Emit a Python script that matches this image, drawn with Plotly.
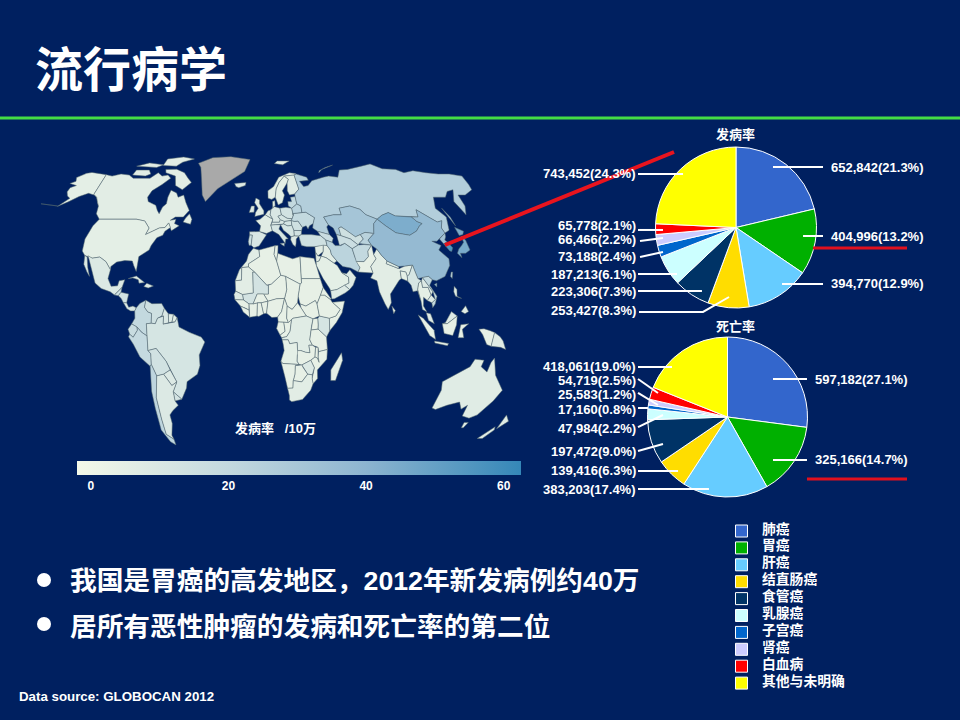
import numpy as np
import plotly.graph_objects as go
from plotly.colors import sample_colorscale

W, H = 960, 720
BG = "#002060"
FONT = "Liberation Sans, Noto Sans CJK SC, sans-serif"

# pie data
cancers = ["肺癌", "胃癌", "肝癌", "结直肠癌", "食管癌", "乳腺癌", "子宫癌", "肾癌", "白血病", "其他与未明确"]
cancer_colors = ["#3366CC", "#00B000", "#66CCFF", "#FFDD00", "#003366", "#CCFFFF", "#0066CC", "#CCCCFF", "#FF0000", "#FFFF00"]
incidence = [652842, 404996, 394770, 253427, 223306, 187213, 73188, 66466, 65778, 743452]
incidence_pct = [21.3, 13.2, 12.9, 8.3, 7.3, 6.1, 2.4, 2.2, 2.1, 24.3]
mortality = [597182, 325166, 383203, 139416, 197472, 47984, 17160, 25583, 54719, 418061]
mortality_pct = [27.1, 14.7, 17.4, 6.3, 9.0, 2.2, 0.8, 1.2, 2.5, 19.0]

# colour bar
rate_ticks = [0, 20, 40, 60]
rate_min, rate_max = -2, 62.5
rate_scale = [[0, "#F4F9E9"], [0.35, "#C2D8DF"], [0.65, "#8DB5D0"], [1, "#3587B8"]]

# country outlines, lon/lat
outlines = {
    "Alaska": [[(-168,65.5),(-164,66.5),(-166,68.3),(-160,70.5),(-156,71.2),(-148,70.3),(-141,69.7),(-141,60.3),(-137,59),(-133,56.5),(-130.5,55),(-134,57.5),(-139,59.8),(-146,60.8),(-152,59.3),(-157,57),(-163,54.8),(-158.5,58.5),(-162,59.5),(-165,61.5),(-165,63.5),(-161,64.5)],
               [(-163,55),(-178,56),(-170,55.2)]],
    "Canada": [[(-141,69.7),(-135,69),(-128,70),(-120,69.5),(-115,68),(-108,68),(-100,68),(-95,71),(-90,69),(-85,69.5),(-81.5,68),(-87,65),(-93.5,62),(-94.8,59),(-92.5,57),(-85,55.3),(-82,53),(-79.5,51.5),(-79,54.5),(-77,56),(-78,59),(-77.5,62.3),(-72,61),(-69.5,59),(-65.5,60),(-61.5,56.5),(-57,53),(-60,50),(-66,50),(-69,48.5),(-65,49),(-65,47),(-61,46),(-65.5,43.7),(-67,45.2),(-69.5,47.3),(-71,45.2),(-75,45),(-79,43.5),(-83,42),(-82.5,45),(-88,48.2),(-95,49),(-123,49),(-128,51.5),(-130.5,55),(-133,56.5),(-137,59),(-141,60.3)],
               [(-62,66),(-68,62.5),(-75,64.5),(-78,69),(-88,71),(-90,73.5),(-80,73.7),(-71,71),(-66,68)],
               [(-117,69.5),(-105,69),(-101,70),(-105,73),(-117,73)],
               [(-95,76.5),(-82,76),(-78,79),(-68,81.5),(-80,83),(-95,81.5)],
               [(-120,76),(-100,75),(-95,77),(-110,78.5)],
               [(-59,47.7),(-53,46.7),(-53,49),(-56,51.5),(-58,49.5)]],
    "USA": [[(-123,49),(-95,49),(-88,48.2),(-82.5,45),(-83,42),(-79,43.5),(-75,45),(-71,45.2),(-69.5,47.3),(-67,45.2),(-70,43.5),(-70.5,41.7),(-74,40.6),(-75.8,37),(-76,35),(-81,32),(-80.2,27),(-80.5,25.2),(-82.7,28),(-84,30),(-89,30.2),(-94,29.5),(-97.3,27.5),(-97.2,26),(-101,29.7),(-106.5,31.8),(-111,31.3),(-117,32.5),(-120.5,34.5),(-124,40),(-124.5,46)]],
    "Mexico": [[(-114.8,32.4),(-111,31.3),(-106.5,31.8),(-101,29.7),(-97.2,26),(-97.8,22),(-95,18.5),(-91,18.7),(-90.5,21),(-87,21.5),(-88,18),(-92,14.6),(-95,16),(-101,17.5),(-105.5,20),(-109,26),(-113,31)],
               [(-117,32.5),(-114.8,31.8),(-112,27),(-109.8,23),(-112,25),(-115,28.5)]],
    "Guatemala": [[(-92,14.6),(-88,18),(-88.2,15.8),(-89.5,14.2)]],
    "Honduras": [[(-89.5,14.2),(-88.2,15.8),(-83.2,15),(-83.7,11),(-85.7,11),(-87.5,13)]],
    "Panama": [[(-85.7,11),(-83.7,11),(-82,9),(-79.5,9.5),(-77.3,8.7),(-78,7.3),(-80.5,7.3),(-83,8.3)]],
    "Cuba": [[(-85,22),(-80,23.2),(-74.2,20.2),(-77.7,19.9),(-78.5,21.5),(-82,22.3)]],
    "Hispaniola": [[(-74.4,18.4),(-72.8,19.9),(-68.4,18.6),(-71.5,17.7)]],
    "Colombia": [[(-77.3,8.7),(-75.5,10.7),(-72,12.2),(-72.3,9),(-70,6.9),(-67.5,6.2),(-67,1.7),(-69.9,1.5),(-69.9,-4.2),(-73,-2.4),(-75.3,0),(-78.8,1.4),(-77.3,4),(-78,7.3)]],
    "Venezuela": [[(-72,12.2),(-68,10.6),(-62,10.7),(-60,8.5),(-61,5),(-63.5,4),(-64.5,1.5),(-67,1.7),(-67.5,6.2),(-70,6.9),(-72.3,9)]],
    "Guyana": [[(-60,8.5),(-57.2,6),(-56.5,1.9),(-59.8,1.3),(-60,5),(-61,5)]],
    "Suriname": [[(-57.2,6),(-54,5.8),(-54.5,2.3),(-56.5,1.9)]],
    "French Guiana": [[(-54,5.8),(-51.6,4.2),(-52.7,2.3),(-54.5,2.3)]],
    "Ecuador": [[(-80.9,-1),(-78.8,1.4),(-75.3,0),(-75.3,-1.5),(-78.5,-4.8),(-80.3,-3.4)]],
    "Peru": [[(-81.3,-4.5),(-80.3,-3.4),(-78.5,-4.8),(-75.3,-1.5),(-75.3,0),(-73,-2.4),(-69.9,-4.2),(-70.5,-11),(-69,-12.5),(-69.5,-17.5),(-70.4,-18.3),(-76,-14),(-79,-8)]],
    "Brazil": [[(-51.6,4.2),(-50,0),(-44,-2.5),(-37,-4.7),(-35,-7),(-39,-13),(-39,-18),(-41,-22),(-48,-25.5),(-48.7,-28.5),(-53.4,-33.7),(-57.6,-30.2),(-54.6,-25.6),(-55.5,-24),(-58,-20),(-60,-16),(-65.3,-10),(-70.5,-11),(-69.9,-4.2),(-69.9,1.5),(-67,1.7),(-64.5,1.5),(-63.5,4),(-61,5),(-60,5),(-59.8,1.3),(-56.5,1.9),(-54.5,2.3),(-52.7,2.3)]],
    "Bolivia": [[(-69,-12.5),(-70.5,-11),(-65.3,-10),(-60,-16),(-58,-20),(-62.5,-22),(-67,-22.8),(-69.5,-17.5)]],
    "Paraguay": [[(-58,-20),(-55.5,-24),(-54.6,-25.6),(-58,-27.3),(-62.5,-22)]],
    "Uruguay": [[(-57.6,-30.2),(-53.4,-33.7),(-58.3,-34.5)]],
    "Chile": [[(-70.4,-18.3),(-69.5,-17.5),(-67,-22.8),(-70,-33),(-72,-43),(-73,-50),(-68.5,-52.3),(-68.6,-55),(-72,-53.5),(-75.5,-48),(-73.5,-38),(-71.5,-30)]],
    "Argentina": [[(-67,-22.8),(-62.5,-22),(-58,-27.3),(-54.6,-25.6),(-57.6,-30.2),(-58.3,-34.5),(-57,-36.5),(-62,-39),(-65,-41),(-65.5,-45),(-69,-50.5),(-68.5,-52.3),(-73,-50),(-72,-43),(-70,-33)]],
    "Greenland": [[(-62,78.2),(-50,82.5),(-32,83.5),(-12,81),(-16,72),(-38,63),(-46,57),(-50,60),(-54,68),(-58,75)]],
    "Iceland": [[(-24,65.5),(-14,66),(-14.5,64.5),(-20,63.5),(-22.5,64)]],
    "UK": [[(-5.5,50.2),(1.4,51.2),(1.5,52.8),(-2,56),(-2,57.7),(-5,58.6),(-6,56.5),(-3,54),(-5,52)]],
    "Ireland": [[(-10,52),(-6.2,52.2),(-6,55),(-8.5,55)]],
    "Portugal": [[(-9.5,38.8),(-8.8,37),(-7.4,37.2),(-6.8,41.8),(-8.8,41.9)]],
    "Spain": [[(-8.8,41.9),(-6.8,41.8),(-7.4,37.2),(-5.5,36),(-2,36.8),(0,39),(3.2,41.9),(-1.8,43.4),(-9,43.3)]],
    "France": [[(-1.8,43.4),(3.2,42.5),(7.5,43.7),(6.5,46.3),(8.2,49),(2.5,51),(-1.5,49),(-4.7,48.4),(-1,46)]],
    "Benelux": [[(2.5,51),(8.2,49),(6.3,51),(7,53.3),(4.7,52.8)]],
    "Germany": [[(6.3,51),(8.2,49),(7.6,47.6),(13,47.6),(13.8,48.8),(12.2,50.3),(15,51),(14.2,54),(9.5,54.8),(8.5,54),(7,53.3)]],
    "Austria": [[(6.5,46.3),(7.6,47.6),(13,47.6),(13.8,48.8),(17,48),(16,46.8),(10,46.5)]],
    "Italy": [[(7.5,43.7),(6.5,46.3),(10,46.5),(13.7,46.5),(12.3,44.5),(16,41.8),(18.4,40),(16.7,40),(16,38),(12,42)],
              [(12.5,38),(15.5,38.2),(15.2,36.7)]],
    "Poland": [[(14.2,54),(15,51),(19,49.4),(22.8,49.2),(24,50.7),(23.5,54),(19,54.4)]],
    "Czechia": [[(12.2,50.3),(15,51),(19,49.4),(22.8,49.2),(22,48.4),(17,48),(13.8,48.8)]],
    "Hungary": [[(17,48),(22,48.4),(22,46.2),(19,45.9),(16,46.8)]],
    "Romania": [[(22,48.4),(24.5,48),(27,48.2),(29.6,45.3),(28.6,43.8),(23,43.9),(22,46.2)]],
    "Bulgaria": [[(23,43.9),(28.6,43.8),(28,42),(26,41.3),(22.8,41.4)]],
    "Balkans": [[(13.7,46.5),(16,46.8),(19,45.9),(22,46.2),(23,43.9),(22.8,41.4),(20.5,41),(19.2,42),(15.5,44)]],
    "Greece": [[(20.5,41),(22.8,41.4),(26,41.3),(24,40),(23.5,38),(22.8,36.5),(21.2,37.5),(20,39.7)]],
    "Ukraine": [[(22.8,49.2),(24,50.7),(24,51.6),(31,52),(34,52.2),(40,49.7),(38,47),(35,46),(33.5,44.5),(32.5,46),(29.6,45.3),(27,48.2),(24.5,48),(22,48.4)]],
    "Belarus": [[(24,51.6),(31,52),(31,55),(28,56),(23.5,54),(24,50.7)]],
    "Baltics": [[(21,55),(23.5,54),(28,56),(27.5,59.3),(23.5,59),(24,57),(21,57)]],
    "Norway": [[(5,58.5),(8,58),(11,59),(12.2,63),(15,66),(20,69),(29,69.5),(31,70.3),(25,71),(15,68.5),(10,64),(5,62)]],
    "Sweden": [[(11,59),(13,55.5),(16.5,56.5),(18.8,60),(17.3,62),(22,65.7),(23.5,67.5),(20,69),(15,66),(12.2,63)]],
    "Finland": [[(23.5,67.5),(22,65.7),(21.5,62),(23,60),(27.5,60.5),(31.5,62.8),(29,69.5),(20,69)]],
    "Denmark": [[(8.5,57),(10.5,57.5),(10.5,55),(9.5,54.8),(8.5,54)]],
    "Russia": [[(27.5,59.3),(28,56),(31,55),(31,52),(34,52.2),(40,49.7),(38,47),(37,45),(40,43.5),(48,42),(47.5,45.5),(49,46.5),(47,50),(55,51),(61,51),(61,54),(70,55),(77,53.5),(80,51),(87,49),(92,50.8),(98,52),(102,50.5),(106,50.3),(114,50),(119,50),(121,53.3),(127,50),(131,47.7),(135,48.3),(131,45),(131,42.7),(135.5,44),(140.5,50),(137,54),(142,59),(152,59),(157,61.7),(163,62.5),(156,57),(157,51),(162,55),(164,60),(170,60),(179,62.5),(180,65),(180,69),(170,70),(160,70),(150,71),(140,72.5),(130,71),(125,73.5),(113,74),(105,77.7),(95,76),(80,73.5),(72,73),(68,68.5),(60,69),(55,68.5),(44,66.8),(40,64.5),(36,64),(33,66.5),(41,67),(40,68.5),(31,70),(29,69.5),(31.5,62.8),(27.5,60.5)],
               [(142,54),(143.5,50),(142.5,46),(142,50)],
               [(52,71),(56,73.5),(68,76.8),(60,75),(53,72.5)]],
    "Svalbard": [[(12,78),(20,77),(27,80),(15,80)]],
    "Kazakhstan": [[(47,50),(49,46.5),(52,45),(53,42),(56,41.5),(56,45),(58,45.5),(61,44),(66,41),(70,42),(74,43),(80,42.5),(83,47),(87,49),(80,51),(77,53.5),(70,55),(61,54),(61,51),(55,51)]],
    "Uzbekistan": [[(56,45),(58,45.5),(61,44),(66,41),(70,42),(71,40),(67,38),(66,37.3),(62,40),(56,41.5)]],
    "Turkmenistan": [[(53,42),(56,41.5),(62,40),(66,37.3),(61,35.6),(57,38),(53,37)]],
    "Kyrgyzstan": [[(70,42),(74,43),(80,42.5),(74,39.5),(75,37.2),(70,37.5),(67,38),(71,40)]],
    "Caucasus": [[(40,43.5),(48,42),(50,40.3),(48.5,38.5),(44.5,39.5),(41.5,41.5)]],
    "Turkey": [[(26,41.3),(28,42),(35,42),(41.5,41.5),(44.5,39.5),(44.5,37),(36,36.5),(30.5,36.5),(27,37)]],
    "Syria": [[(36,36.5),(42,37.2),(41,34.3),(36.8,32.3),(35.7,34)]],
    "Iraq": [[(42,37.2),(44.5,37),(46,35),(46,33),(48.5,30),(46.5,29),(42,31.5),(39,32.2),(41,34.3)]],
    "Jordan": [[(35,29.5),(35.7,34),(36.8,32.3),(39,32.2),(37,30)]],
    "Iran": [[(44.5,39.5),(48.5,38.5),(50,37),(54,37),(57,38),(61,35.6),(61,31.5),(63,27),(61.5,25),(57,26.8),(52,27.5),(48.5,30),(46,33),(46,35),(44.5,37)]],
    "Saudi Arabia": [[(35,29.5),(37,30),(39,32.2),(42,31.5),(46.5,29),(48.5,28),(51,24.7),(55,22.7),(55,20),(52,19),(47,17),(43,16.5),(42.5,17.5),(38.8,22),(37,25),(35,28)]],
    "Oman": [[(51,24.7),(54,24.2),(56.3,26),(59.8,22.5),(57.5,19),(55,17),(52,19),(55,20),(55,22.7)]],
    "Yemen": [[(43,16.5),(47,17),(52,19),(55,17),(52,15.5),(45,12.8),(43.3,12.7)]],
    "Afghanistan": [[(61,35.6),(66,37.3),(70,37.5),(75,37.2),(71,34.5),(70,32),(66,29.7),(61,29.8),(61,31.5)]],
    "Pakistan": [[(61,29.8),(66,29.7),(70,32),(71,34.5),(75,37.2),(74,33),(74.5,31),(70,27.5),(71,24.5),(67,24.8),(61.5,25),(63,27)]],
    "India": [[(74.5,31),(74,33),(77.5,35.5),(79,32.5),(81,30),(80.2,28.8),(88,26.5),(89,26.8),(92,27.7),(97,28.2),(94,24),(92.5,23),(92,25),(88.5,25.5),(88.5,22),(87,21.3),(82,16.5),(80.2,15),(80,11),(77.5,8),(76,10.5),(73.5,16),(72.8,21),(69,22.3),(71,24.5),(70,27.5)]],
    "Nepal": [[(80.2,28.8),(81,30),(88,27.5),(88,26.5)]],
    "Bangladesh": [[(88.5,25.5),(92,25),(92.5,23),(92.3,20.8),(88.5,22)]],
    "Sri Lanka": [[(80,9.5),(81.8,7.5),(80.5,6)]],
    "Mongolia": [[(87,49),(92,50.8),(98,52),(102,50.5),(106,50.3),(114,50),(116,48),(119,47),(116,46),(111.5,43.6),(105,41.7),(96,42.8),(91,46)]],
    "China": [[(74,39.5),(80,42.5),(83,47),(87,49),(91,46),(96,42.8),(105,41.7),(111.5,43.6),(116,46),(119,47),(116,48),(114,50),(119,50),(121,53.3),(127,50),(131,47.7),(135,48.3),(131,45),(131,42.7),(128,41.5),(124.3,40),(121.5,39),(118,39),(122.5,37),(119,35),(122,31),(121,28),(116.5,23),(110.5,21),(108,21.5),(106,23),(102,22.5),(99,22),(98,25),(97,28.2),(92,27.7),(88,27.5),(81,30),(79,32.5),(77.5,35.5),(75,37.2)],
              [(108.7,19.3),(110.5,20),(110,18.2)]],
    "Taiwan": [[(121,25),(122,25),(120.8,22),(120,23)]],
    "North Korea": [[(124.3,40),(128,41.5),(131,42.7),(129.7,41),(127.5,39.5),(128.3,38.6),(125,37.8)]],
    "South Korea": [[(125,37.8),(128.3,38.6),(129.4,36),(127,34.3),(126,34.6)]],
    "Japan": [[(130,33.5),(131,31.5),(132,33.5),(135.5,33.5),(140,35),(142,39.5),(141,41.3),(139.5,38.5),(136.5,37),(133,35.5)],
              [(140,41.6),(141,45.3),(145.3,43.5),(143,42)]],
    "Myanmar": [[(92.3,20.8),(92.5,23),(94,24),(97,28.2),(98,25),(99,22),(101,21),(99,20),(97.7,17),(98.5,12),(97.5,16.5),(94.5,16),(94,19)]],
    "Thailand": [[(97.7,17),(99,20),(101,21),(101,18),(104.5,18),(105.5,14.5),(102.5,12),(100.5,13.5),(99.5,9.5),(101,6.8),(98.5,8),(98.5,12)]],
    "Laos": [[(101,21),(102,22.5),(104,20),(107,16),(105.5,14.5),(104.5,18),(101,18)]],
    "Vietnam": [[(102,22.5),(106,23),(108,21.5),(105.7,19),(109,14),(107,10.5),(105,8.8),(105,11),(107.5,12.5),(107,16),(104,20)]],
    "Cambodia": [[(102.5,12),(105.5,14.5),(107.5,12.5),(105,11)]],
    "Malaysia": [[(100.5,6.5),(103,6),(104.2,1.5),(101,3)],
                 [(109,1.5),(111,2),(116,7),(119,5),(115,3),(112,1.5)]],
    "Indonesia": [[(95.3,5.5),(98,4),(104,-1.5),(106,-5.8),(102,-4),(97,2)],
                  [(105.5,-6.5),(114.5,-7.7),(114,-8.7),(106,-7.5)],
                  [(109,1.5),(112,1.5),(115,3),(119,5),(117.5,1),(116,-4),(110.5,-3),(109,0)],
                  [(119.5,-5),(120,1),(125,1.5),(121,-1),(123,-5)],
                  [(131,-1),(134,-0.8),(138,-1.7),(141,-2.6),(141,-9),(138,-8.2),(134,-3.5)]],
    "Philippines": [[(120,16),(121,18.5),(122.3,17),(121.5,14),(124,13),(120.5,14)],
                    [(122,7),(125.5,9.7),(126.5,7),(124,6)]],
    "Papua New Guinea": [[(141,-2.6),(145,-4.5),(147.5,-6.5),(150.5,-10.5),(147,-9.5),(143,-9),(141,-9)]],
    "Australia": [[(115.5,-25.5),(116,-29.5),(117,-37.8),(120,-38.5),(126,-36.5),(133,-35),(137.5,-38.3),(140,-36.5),(142,-41.5),(148,-42.5),(152,-41),(155,-34.5),(155.5,-29.5),(148.5,-22.5),(145,-14.5),(143.5,-16.5),(142.5,-21),(138,-18.5),(138.8,-15.5),(133,-15),(131,-18.5),(124,-21.5),(119,-24)],
                  [(147,-44.5),(150,-44.5),(149.5,-47),(148,-47)]],
    "New Zealand": [[(172.7,-41),(178.5,-44),(175,-47.5),(174,-45)],
                    [(172.5,-46.5),(174,-48),(171,-52),(167,-52)]],
    "Morocco": [[(-5.9,35.8),(-2,35),(-1.5,32),(-8.7,28.7),(-8.7,27.3),(-13,27),(-13,21.3),(-17,21),(-14.5,26),(-10,30),(-9,33)]],
    "Algeria": [[(-2,35),(9,37),(8,33),(9.5,30),(12,23.5),(6,19.5),(3,19),(-4.8,25),(-8.7,27.3),(-8.7,28.7),(-1.5,32)]],
    "Tunisia": [[(9,37),(11,37),(10.5,33.5),(9.5,30),(8,33)]],
    "Libya": [[(10.5,33.5),(15,32.3),(20,31),(25,32),(25,20),(24,19.5),(15,23),(12,23.5),(9.5,30)]],
    "Egypt": [[(25,32),(34,31.2),(35,28),(37,22),(25,22)]],
    "Sudan": [[(25,20),(25,22),(37,22),(38.5,18),(36.5,14.5),(34,10.5),(33,12),(27,9.5),(23.5,10.5),(22.5,14),(24,19.5)]],
    "South Sudan": [[(23.5,10.5),(27,9.5),(33,12),(34,10.5),(35,5),(31,3.7),(27,5),(24,8.7)]],
    "Chad": [[(15,23),(24,19.5),(22.5,14),(22,11),(18.5,8),(15.5,9.5),(14,13),(15.5,17)]],
    "Niger": [[(12,23.5),(15,23),(15.5,17),(14,13),(9,12.8),(3.7,11.7),(1,15),(4,15),(4,19),(6,19.5)]],
    "Mali": [[(-12.2,14.8),(-11.5,12.3),(-8,10.5),(-5.5,10.5),(-3,15),(1,15),(4,15),(4,19),(3,19),(-4.8,25),(-6,25),(-5.5,15.5),(-11,15.2)]],
    "Mauritania": [[(-17,21),(-13,21.3),(-13,27),(-8.7,27.3),(-4.8,25),(-6,25),(-5.5,15.5),(-11,15.2),(-12.2,14.8),(-16.5,16.3)]],
    "Senegal": [[(-16.5,16.3),(-12.2,14.8),(-11.5,12.3),(-16.8,12.4),(-17.5,14.8)]],
    "Guinea": [[(-16.8,12.4),(-11.5,12.3),(-8,10.5),(-8,7.7),(-10,8.5),(-13.3,9.5)]],
    "Liberia": [[(-13.3,9.5),(-10,8.5),(-8,7.7),(-7.5,4.4),(-11.5,6.8)]],
    "Cote d'Ivoire": [[(-8,10.5),(-5.5,10.5),(-2.8,11),(-3,5),(-7.5,4.4),(-8,7.7)]],
    "Burkina Faso": [[(-5.5,10.5),(-3,15),(1,15),(3.7,11.7),(-0.5,11),(-2.8,11)]],
    "Ghana": [[(-2.8,11),(-0.5,11),(1,6),(-2,4.8),(-3,5)]],
    "Benin": [[(-0.5,11),(3.7,11.7),(2.8,6.3),(1,6)]],
    "Nigeria": [[(3.7,11.7),(9,12.8),(14,13),(13,10),(12,7),(9.5,4.5),(6,4.3),(2.8,6.3)]],
    "Cameroon": [[(9.5,4.5),(12,7),(13,10),(14,13),(15.5,9.5),(15,4),(16,2),(9.8,2.3)]],
    "Central African Rep": [[(15,4),(15.5,9.5),(18.5,8),(22,11),(24,8.7),(27,5),(19,4),(18,3.5),(16,2)]],
    "Gabon": [[(9.8,2.3),(13.2,2.2),(14,-2),(11,-3.8),(8.8,-0.7)]],
    "Congo": [[(13.2,2.2),(16,2),(18,3.5),(17,-2),(15,-4.5),(12,-5),(11,-3.8),(14,-2)]],
    "DR Congo": [[(18,3.5),(19,4),(27,5),(31,3.7),(29.8,0),(29.7,-1.4),(29.2,-6),(31,-8.5),(28.8,-8.5),(29.8,-12),(27,-11.8),(24,-11),(22,-11),(21.5,-7.2),(17,-7.8),(16,-6),(12.3,-6),(12,-5),(15,-4.5),(17,-2)]],
    "Uganda": [[(31,3.7),(34,4),(34,1),(33.9,-1),(29.7,-1.4),(29.8,0)]],
    "Kenya": [[(34,4),(35,5),(41,4),(41,-1.7),(39.3,-4.7),(33.9,-1),(34,1)]],
    "Somalia": [[(41,4),(41,-1.7),(45,2),(49,6.5),(51.2,11.8),(43.5,11.2),(48,8),(45,5)]],
    "Ethiopia": [[(36.5,14.5),(39,14.5),(42.5,12.5),(43.5,11.2),(48,8),(45,5),(41,4),(35,5),(34,10.5)]],
    "Eritrea": [[(36.5,14.5),(38.5,18),(43,12.7),(42.5,12.5),(39,14.5)]],
    "Tanzania": [[(29.7,-1.4),(33.9,-1),(39.3,-4.7),(40.4,-10.5),(35,-11.5),(34.5,-9.5),(31,-8.5),(29.2,-6)]],
    "Angola": [[(12.3,-6),(16,-6),(17,-7.8),(21.5,-7.2),(22,-11),(24,-11),(22,-13),(22,-16),(23.4,-17.5),(13,-17),(11.8,-16),(13.7,-11),(13,-8)]],
    "Zambia": [[(22,-11),(24,-11),(27,-11.8),(29.8,-12),(28.8,-8.5),(31,-8.5),(33,-9.5),(33,-14),(30.5,-15.5),(25,-17.7),(23.4,-17.5),(22,-16),(22,-13)]],
    "Malawi": [[(33,-9.5),(34.5,-9.5),(35,-14),(35.8,-16.5),(34.5,-14.5),(33,-14)]],
    "Mozambique": [[(35,-11.5),(40.4,-10.5),(40.5,-15),(35,-20),(35.5,-24),(32.8,-26.5),(32,-24),(33,-19),(30.5,-15.5),(33,-14),(34.5,-14.5),(35.8,-16.5),(35,-14)]],
    "Zimbabwe": [[(25,-17.7),(30.5,-15.5),(33,-19),(32,-22.3),(29,-22),(26,-19)]],
    "Botswana": [[(20.9,-18),(25,-17.7),(26,-19),(29,-22),(25.5,-25.6),(20,-25),(20.9,-22)]],
    "Namibia": [[(11.8,-16),(13,-17),(23.4,-17.5),(20.9,-18),(20.9,-22),(20,-25),(20,-28.5),(16.5,-28.6),(14.5,-23)]],
    "South Africa": [[(16.5,-28.6),(20,-28.5),(20,-25),(25.5,-25.6),(29,-22),(32,-22.3),(32,-24),(32.8,-26.5),(31.5,-29.5),(27,-33.8),(20,-34.8),(18.3,-34),(18,-32)]],
    "Madagascar": [[(49.3,-12),(50.4,-15.5),(47,-25),(44,-25),(43.5,-20),(47,-15.5)]],
}

# rate per 100k, judged from the fill colours; anything not listed is 4
rates = {
    "Alaska": 5, "Canada": 6, "USA": 5, "Mexico": 9, "Guatemala": 14, "Honduras": 14, "Panama": 10,
    "Cuba": 7, "Hispaniola": 8, "Colombia": 20, "Venezuela": 15, "Guyana": 10, "Suriname": 8,
    "French Guiana": 7, "Ecuador": 18, "Peru": 19, "Brazil": 12, "Bolivia": 14, "Paraguay": 9,
    "Uruguay": 13, "Chile": 22, "Argentina": 9, "Iceland": 8, "UK": 7, "Ireland": 8, "Portugal": 16,
    "Spain": 10, "France": 7, "Benelux": 8, "Germany": 10, "Austria": 10, "Italy": 12, "Poland": 14,
    "Czechia": 12, "Hungary": 13, "Romania": 15, "Bulgaria": 14, "Balkans": 12, "Greece": 8,
    "Ukraine": 20, "Belarus": 24, "Baltics": 20, "Norway": 6, "Sweden": 5, "Finland": 7, "Denmark": 6,
    "Russia": 26, "Svalbard": 6, "Kazakhstan": 31, "Uzbekistan": 15, "Turkmenistan": 17,
    "Kyrgyzstan": 24, "Caucasus": 17, "Turkey": 15, "Syria": 6, "Iraq": 6, "Jordan": 6, "Iran": 23,
    "Saudi Arabia": 5, "Oman": 8, "Yemen": 8, "Afghanistan": 20, "Pakistan": 4, "India": 6,
    "Nepal": 7, "Bangladesh": 5, "Sri Lanka": 4, "Mongolia": 44, "China": 37, "Taiwan": 24,
    "North Korea": 32, "South Korea": 55, "Japan": 45, "Myanmar": 12, "Thailand": 5, "Laos": 9,
    "Vietnam": 20, "Cambodia": 8, "Malaysia": 8, "Indonesia": 4, "Philippines": 7,
    "Papua New Guinea": 7, "Australia": 7, "New Zealand": 7, "Mali": 13, "Kenya": 12,
    "Zimbabwe": 9, "Madagascar": 5, "DR Congo": 7, "Angola": 5, "Mauritania": 6, "Morocco": 7,
    "South Africa": 6, "Senegal": 9,
}


def squeeze(lat):
    # east-west narrowing of the source map towards the poles
    return np.interp(np.abs(lat), [0, 30, 60, 90], [1, 0.93, 0.72, 0.55])


def stretch(lat):
    # north-south spacing of the source map, roughly what the slide uses
    return np.interp(lat, [-90, 0, 30, 50, 60, 70, 83, 90], [-193, 0, 66, 110, 132, 153, 170, 175])


fig = go.Figure()

# map
for name, rings in outlines.items():
    if name == "Greenland":
        fill = "#A9A9A9"
    else:
        value = rates.get(name, 4)
        fill = sample_colorscale(rate_scale, (value - rate_min) / (rate_max - rate_min))[0]
    for ring in rings:
        lon = np.array([p[0] for p in ring] + [ring[0][0]], dtype=float)
        lat = np.array([p[1] for p in ring] + [ring[0][1]], dtype=float)
        fig.add_trace(go.Scatter(
            x=lon * squeeze(lat), y=stretch(lat), mode="lines", fill="toself", fillcolor=fill,
            line=dict(color="#55696F", width=0.5), showlegend=False, name=name, hoverinfo="name",
        ))

# only here for the colour bar
fig.add_trace(go.Scatter(
    x=[None] * len(rate_ticks), y=[None] * len(rate_ticks), mode="markers", showlegend=False,
    marker=dict(
        color=rate_ticks, colorscale=rate_scale, cmin=rate_min, cmax=rate_max,
        colorbar=dict(
            orientation="h", thickness=14, lenmode="pixels", len=444, xanchor="left",
            x=77 / W, xpad=0, ypad=0, yanchor="top", y=1 - 461 / H, outlinewidth=0,
            tickvals=rate_ticks, ticks="", ticklen=0,
            tickfont=dict(color="white", size=12, family=FONT, weight="bold"),
        ),
    ),
))

fig.add_trace(go.Pie(
    labels=cancers, values=incidence, sort=False, direction="clockwise", rotation=0, textinfo="none",
    marker=dict(colors=cancer_colors, line=dict(color="white", width=1)),
    domain=dict(x=[(736 - 80.5) / W, (736 + 80.5) / W], y=[1 - 308 / H, 1 - 147 / H]),
    showlegend=False,
))
fig.add_trace(go.Pie(
    labels=cancers, values=mortality, sort=False, direction="clockwise", rotation=0, textinfo="none",
    marker=dict(colors=cancer_colors, line=dict(color="white", width=1)),
    domain=dict(x=[(727.5 - 80) / W, (727.5 + 80) / W], y=[1 - 497 / H, 1 - 337 / H]),
    showlegend=False,
))

shapes = []
annotations = []


def add_line(points, color="white", width=2):
    path = "M" + " L".join(f"{a / W:.4f},{1 - b / H:.4f}" for a, b in points)
    shapes.append(dict(type="path", path=path, xref="paper", yref="paper",
                       line=dict(color=color, width=width), layer="above"))


def add_text(x, y, text, size=13, anchor="left"):
    annotations.append(dict(x=x / W, y=1 - y / H, xref="paper", yref="paper", text=f"<b>{text}</b>",
                            showarrow=False, xanchor=anchor, yanchor="middle",
                            font=dict(color="white", size=size, family=FONT)))


# leader lines and labels, same order as the values
inc_text = [(829, 167), (829, 237), (829, 284), (638, 310), (638, 291), (638, 274), (638, 256), (638, 240), (638, 225), (638, 173)]
inc_lines = [
    [(773, 167), (823, 167)], [(803, 236), (823, 236)], [(782, 284), (823, 284)],
    [(639, 312), (703, 312), (729, 297)], [(638, 291), (702, 291)], [(638, 274), (677, 274)],
    [(640, 257), (663, 252)], [(640, 241), (663, 238)], [(638, 230), (663, 230)], [(638, 174), (683, 174)],
]
mor_text = [(813, 379), (813, 460), (638, 489), (638, 470), (638, 451), (638, 428), (638, 409), (638, 394), (638, 380), (638, 366)]
mor_lines = [
    [(773, 379), (807, 379)], [(773, 460), (807, 460)], [(638, 489), (709, 489)],
    [(638, 471), (678, 471)], [(638, 451), (663, 444)], [(638, 427), (663, 415)],
    [(638, 408), (648, 408)], [(638, 393), (658, 405)], [(638, 379), (658, 393)], [(638, 367), (672, 367)],
]
for vals, pcts, spots, lines in [(incidence, incidence_pct, inc_text, inc_lines), (mortality, mortality_pct, mor_text, mor_lines)]:
    for v, p, (tx, ty), line in zip(vals, pcts, spots, lines):
        add_text(tx, ty, f"{v:,}({p:.1f}%)", anchor="left" if tx > 700 else "right")
        add_line(line)

add_line([(445, 245), (674, 152)], color="#E8141E", width=4)
add_line([(813, 248), (907, 248)], color="#E0101E", width=3)
add_line([(807, 479), (907, 479)], color="#E0101E", width=3)
add_line([(0, 118), (960, 118)], color="#44DD44", width=3)

add_text(735, 134, "发病率", size=13, anchor="center")
add_text(735, 327, "死亡率", size=13, anchor="center")
add_text(275, 428, "发病率&nbsp;&nbsp;&nbsp;/10万", size=13, anchor="center")
add_text(33, 71, "流行病学", size=48)
add_text(68, 581, "我国是胃癌的高发地区，2012年新发病例约40万", size=26.7)
add_text(68, 627, "居所有恶性肿瘤的发病和死亡率的第二位", size=26.7)
add_text(17, 696, "Data source: GLOBOCAN 2012", size=13.3)

# legend rows
for i, (label, color) in enumerate(zip(cancers, cancer_colors)):
    row = 531 + 16.9 * i
    shapes.append(dict(type="rect", xref="paper", yref="paper", fillcolor=color,
                       line=dict(color="white", width=1),
                       x0=735.5 / W, x1=747.5 / W, y0=1 - (row + 6) / H, y1=1 - (row - 6) / H))
    add_text(760, row - 2.5, label, size=13.8)

for cy in [580, 624]:
    shapes.append(dict(type="circle", xref="paper", yref="paper", fillcolor="white", line_width=0,
                       x0=37 / W, x1=51 / W, y0=1 - (cy + 7) / H, y1=1 - (cy - 7) / H))

fig.update_layout(
    width=W, height=H, margin=dict(l=0, r=0, t=0, b=0), autosize=False, showlegend=False,
    paper_bgcolor=BG, plot_bgcolor=BG, shapes=shapes, annotations=annotations,
    xaxis=dict(visible=False, range=[-262 / 1.66, (W - 262) / 1.66], domain=[0, 1], fixedrange=True),
    yaxis=dict(visible=False, range=[327 - H, 327], domain=[0, 1], fixedrange=True),
    font=dict(family=FONT),
)

# the page's default body margin would push the slide off by 8px
fig.write_html("out.html", config=dict(displayModeBar=False),
               post_script="document.body.style.margin='0';document.body.style.background='#002060';")
